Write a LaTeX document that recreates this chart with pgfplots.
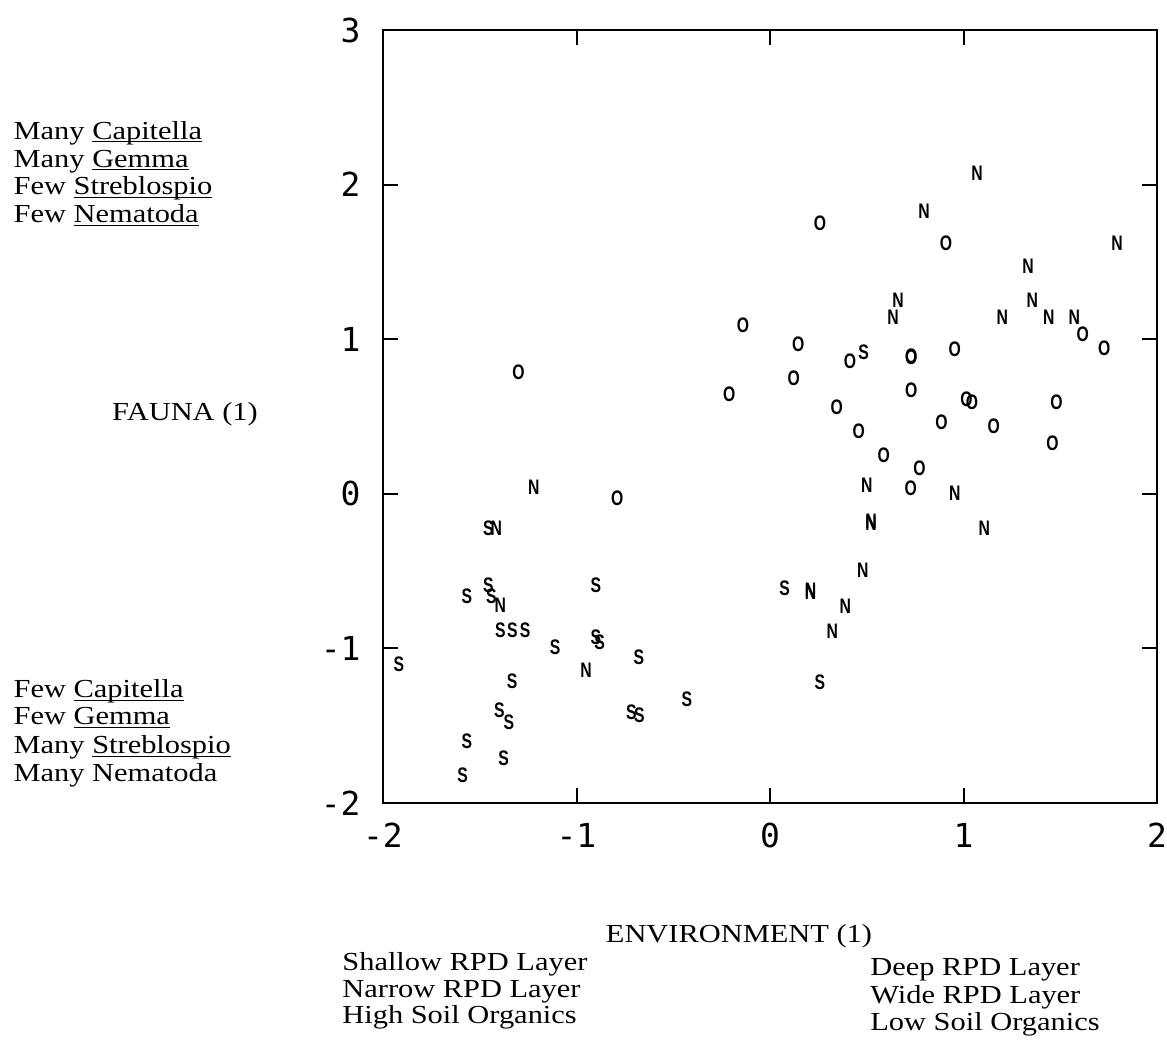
\documentclass[border=0pt]{standalone}
\usepackage{fontspec}
\setmainfont{Liberation Serif}
\setsansfont{Liberation Sans}
\setmonofont{DejaVu Sans Mono}
\usepackage{graphicx}
\usepackage{pgfplots}
\pgfplotsset{compat=1.18}
\newcommand{\lt}[1]{\scalebox{1.17}[1]{\fontsize{13}{14}\selectfont #1}}
\newcommand{\ul}[1]{\setbox0\hbox{#1}\rlap{\rule[-1.6pt]{\wd0}{0.6pt}}\box0}
\newcommand{\mk}[1]{\scalebox{0.75}[1]{\sffamily\bfseries\fontsize{10.5}{10.5}\selectfont #1}}
\begin{document}
\begin{tikzpicture}
\useasboundingbox (-191.5pt,-125.5pt) rectangle (392pt,401.5pt);
\begin{axis}[
  at={(0pt,0pt)}, anchor=south west,
  scale only axis, width=387pt, height=386.5pt,
  xmin=-2, xmax=2, ymin=-2, ymax=3,
  xtick={-2,-1,0,1,2}, xticklabels={-2,-1,0,1,2},
  ytick={-2,-1,0,1,2,3}, yticklabels={-2,-1,0,1,2,3},
  tick pos=both, tick align=inside, major tick length=7.5pt,
  axis line style={line width=1.4pt},
  every tick/.style={black, line width=1pt},
  ticklabel style={font=\ttfamily\fontsize{16.5}{18}\selectfont},
  yticklabel style={inner sep=0pt, xshift=-11pt},
  xticklabel style={inner sep=0pt, yshift=-10pt},
  clip=false,
]
\addplot[only marks, mark=text, text mark={\mk{S}}] table {
-1.918 -1.10
-1.566 -0.66
-1.455 -0.59
-1.44 -0.66
-1.455 -0.22
-0.90 -0.59
-1.394 -0.88
-1.332 -0.88
-1.266 -0.88
-1.11 -0.99
-0.90 -0.93
-0.88 -0.96
-0.678 -1.06
-1.333 -1.215
-1.398 -1.40
-1.35 -1.48
-0.716 -1.41
-0.675 -1.43
-0.43 -1.33
-1.567 -1.60
-1.377 -1.71
-1.588 -1.82
0.076 -0.614
0.258 -1.22
0.484 0.914
};
\addplot[only marks, mark=text, text mark={\mk{N}}] table {
-1.22 0.04
-1.415 -0.22
-1.394 -0.72
-0.95 -1.14
1.07 2.07
0.796 1.83
1.793 1.62
1.333 1.47
0.662 1.25
0.636 1.14
1.20 1.14
1.356 1.25
1.441 1.14
1.573 1.14
0.50 0.056
0.955 0.002
0.522 -0.18
0.522 -0.19
1.108 -0.225
0.21 -0.625
0.21 -0.635
0.479 -0.495
0.389 -0.726
0.322 -0.888
};
\addplot[only marks, mark=text, text mark={\mk{O}}] table {
-1.30 0.785
-0.79 -0.03
0.258 1.75
0.909 1.62
1.616 1.035
1.727 0.94
-0.14 1.09
0.146 0.964
0.414 0.86
0.73 0.88
0.73 0.89
0.955 0.936
0.123 0.75
-0.21 0.644
0.73 0.668
0.345 0.558
1.016 0.614
1.044 0.592
1.48 0.59
0.458 0.406
0.886 0.462
1.156 0.44
1.46 0.326
0.588 0.246
0.773 0.164
0.727 0.034
};
\end{axis}
\node[anchor=base west, inner sep=0pt] at (-184.85pt,331.85pt) {\lt{Many \ul{Capitella}}};
\node[anchor=base west, inner sep=0pt] at (-184.85pt,317.85pt) {\lt{Many \ul{Gemma}}};
\node[anchor=base west, inner sep=0pt] at (-184.85pt,304pt) {\lt{Few \ul{Streblospio}}};
\node[anchor=base west, inner sep=0pt] at (-184.85pt,290pt) {\lt{Few \ul{Nematoda}}};
\node[inner sep=0pt] at (-99pt,194.5pt) {\lt{FAUNA (1)}};
\node[anchor=base west, inner sep=0pt] at (-184.85pt,52.5pt) {\lt{Few \ul{Capitella}}};
\node[anchor=base west, inner sep=0pt] at (-184.85pt,39pt) {\lt{Few \ul{Gemma}}};
\node[anchor=base west, inner sep=0pt] at (-184.85pt,24.5pt) {\lt{Many \ul{Streblospio}}};
\node[anchor=base west, inner sep=0pt] at (-184.85pt,10.5pt) {\lt{Many Nematoda}};
\node[anchor=base, inner sep=0pt] at (178pt,-70pt) {\lt{ENVIRONMENT (1)}};
\node[anchor=base west, inner sep=0pt] at (-20.5pt,-84pt) {\lt{Shallow RPD Layer}};
\node[anchor=base west, inner sep=0pt] at (-20.5pt,-97pt) {\lt{Narrow RPD Layer}};
\node[anchor=base west, inner sep=0pt] at (-20.5pt,-110pt) {\lt{High Soil Organics}};
\node[anchor=base west, inner sep=0pt] at (243.5pt,-86pt) {\lt{Deep RPD Layer}};
\node[anchor=base west, inner sep=0pt] at (243.5pt,-100pt) {\lt{Wide RPD Layer}};
\node[anchor=base west, inner sep=0pt] at (243.5pt,-113.5pt) {\lt{Low Soil Organics}};
\end{tikzpicture}
\end{document}
